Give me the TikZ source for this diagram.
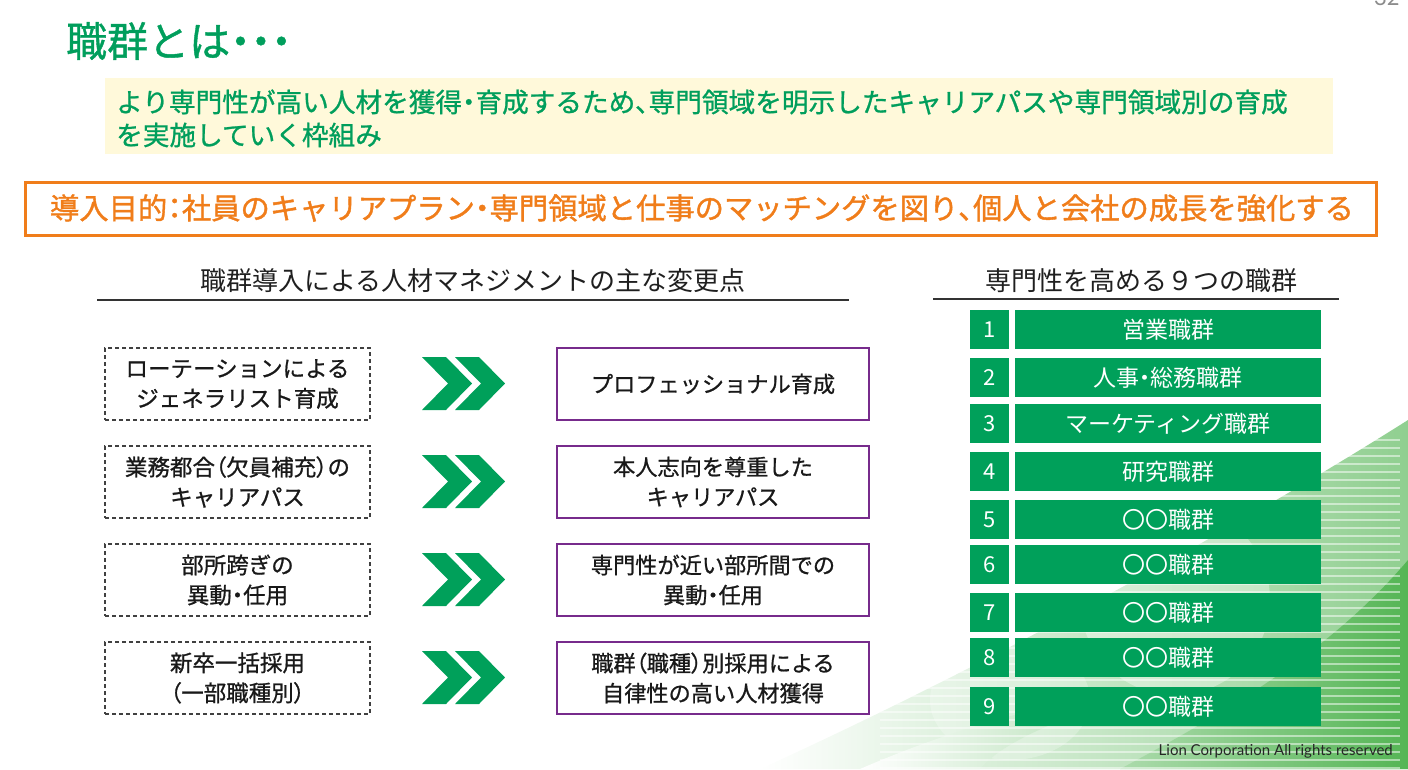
\documentclass[tikz,border=0pt]{standalone}
\usepackage{fontspec}
\setmainfont{Noto Sans CJK JP}
\newfontfamily\jp{Noto Sans CJK JP}
\newfontfamily\jpm[FakeBold=0.9]{Noto Sans CJK JP}
\newfontfamily\jpb[FakeBold=1.3]{Noto Sans CJK JP}
\newfontfamily\jpt[FakeBold=1.0]{Noto Sans CJK JP}
\newfontfamily\jpn{Noto Sans CJK JP}
\newfontfamily\lat{Lato}
\newcommand\pq[1]{{\addfontfeature{RawFeature=+palt}#1}}
\definecolor{lg}{RGB}{0,160,90}
\definecolor{tg}{RGB}{0,158,92}
\definecolor{cream}{RGB}{255,249,218}
\definecolor{orng}{RGB}{240,125,26}
\definecolor{purp}{RGB}{119,43,140}
\definecolor{bgg}{RGB}{70,175,70}
\begin{document}
\begin{tikzpicture}[x=1pt,y=-1pt,
  lbox/.style={draw=black!75, dash pattern=on 4pt off 3pt, line width=1.3pt, minimum width=265pt, minimum height=72pt, inner sep=0pt, align=center, text=black!90, font=\jpm\fontsize{22.5}{30}\selectfont},
  rbox/.style={draw=purp, line width=2.4pt, minimum width=312pt, minimum height=72pt, inner sep=0pt, align=center, text=black!90, font=\jpm\fontsize{22.2}{30}\selectfont},
  numcell/.style={fill=lg, minimum width=39pt, minimum height=39pt, inner sep=0pt, text=white, font=\jpn\fontsize{22}{26}\selectfont},
  namecell/.style={fill=lg, minimum width=306pt, minimum height=39pt, inner sep=0pt, text=white, font=\jpn\fontsize{23}{26}\selectfont},
  hdr/.style={inner sep=0pt, text=black!88, font=\jp\fontsize{26}{28}\selectfont},
  chev/.style={fill=lg}]
\useasboundingbox (0,0) rectangle (1408,769);
% background decoration
\shade[left color=white, right color=bgg!60!white] (760,769) .. controls (1000,660) and (1250,520) .. (1408,420) -- (1408,769) -- cycle;
\fill[white, opacity=0.35] (1175,600) circle (95pt);
\fill[white, opacity=0.25] (1010,700) ellipse (80pt and 60pt);
\shade[left color=bgg!45!white, right color=bgg!92!white] (1120,769) .. controls (1250,700) and (1340,640) .. (1408,560) -- (1408,769) -- cycle;
\shade[left color=white, right color=bgg!45!white] (860,769) .. controls (950,730) and (1050,700) .. (1150,690) .. controls (1050,720) and (1000,745) .. (980,769) -- cycle;
\foreach \yy in {440,448,...,768} {\draw[white, opacity=0.5, line width=1.2pt] (880,\yy) -- (1400,\yy);}
% page number (cut off at the top edge, as in the slide)
\node[anchor=base west, inner sep=0pt, text=black!45, font=\lat\fontsize{22}{24}\selectfont] (pg) at (1374,5) {32};
% title
\node[anchor=west, inner sep=0pt, text=tg, font=\jpt\fontsize{41}{44}\selectfont] (title) at (66,41) {職群とは\pq{・・・}};
% yellow definition box
\fill[cream] (105,78) rectangle (1333,154);
\node[anchor=west, inner sep=0pt, text=tg, font=\jpm\fontsize{26.65}{30}\selectfont] (def1) at (116,102) {より専門性が高い人材を獲得\pq{・}育成するため\pq{、}専門領域を明示したキャリアパスや専門領域別の育成};
\node[anchor=west, inner sep=0pt, text=tg, font=\jpm\fontsize{26.65}{30}\selectfont] (def2) at (116,135) {を実施していく枠組み};
% orange purpose box
\draw[orng, line width=3pt] (25,182) rectangle (1376,235);
\node[inner sep=0pt, text=orng, font=\jpb\fontsize{29.3}{31}\selectfont] (purpose) at (702,208) {導入目的\pq{：}社員のキャリアプラン\pq{・}専門領域と仕事のマッチングを図り\pq{、}個人と会社の成長を強化する};
% headers
\node[hdr] (hl) at (473,281) {職群導入による人材マネジメントの主な変更点};
\draw[black!80, line width=1.5pt] (97,300) -- (849,300);
\node[hdr] (hr) at (1141,281) {専門性を高める９つの職群};
\draw[black!80, line width=1.5pt] (933,299) -- (1339,299);
% left column: before -> after
\node[lbox] (L1) at (237.5,384) {ローテーションによる\\ジェネラリスト育成};
\node[lbox] (L2) at (237.5,482) {業務都合\pq{（}欠員補充\pq{）}の\\キャリアパス};
\node[lbox] (L3) at (237.5,580) {部所跨ぎの\\異動\pq{・}任用};
\node[lbox] (L4) at (237.5,678) {新卒一括採用\\\pq{（}一部職種別\pq{）}};
\node[rbox] (R1) at (713,384) {プロフェッショナル育成};
\node[rbox] (R2) at (713,482) {本人志向を尊重した\\キャリアパス};
\node[rbox] (R3) at (713,580) {専門性が近い部所間での\\異動\pq{・}任用};
\node[rbox] (R4) at (713,678) {職群\pq{（}職種\pq{）}別採用による\\自律性の高い人材獲得};
\foreach \c in {383.5,481.5,579.5,677.5} {
  \foreach \x in {422,455} {
    \fill[chev] (\x,\c-26.5) -- (\x+24,\c-26.5) -- (\x+50,\c) -- (\x+24,\c+26.5) -- (\x,\c+26.5) -- (\x+26,\c) -- cycle;
  }
}
% right column: 9 job groups
\foreach \i/\t/\n in {1/310/営業職群, 2/358/人事\pq{・}総務職群, 3/404/マーケティング職群, 4/452/研究職群, 5/500/〇〇職群, 6/545/〇〇職群, 7/593/〇〇職群, 8/638/〇〇職群, 9/687/〇〇職群} {
  \node[numcell] (N\i) at (989.5,\t+19.5) {\i};
  \node[namecell] (G\i) at (1168,\t+19.5) {\n};
}
% footer
\node[anchor=east, inner sep=0pt, text=black!85, font=\lat\fontsize{15}{17}\selectfont] (foot) at (1393,751) {Lion Corporation All rights reserved};
\end{tikzpicture}
\end{document}
